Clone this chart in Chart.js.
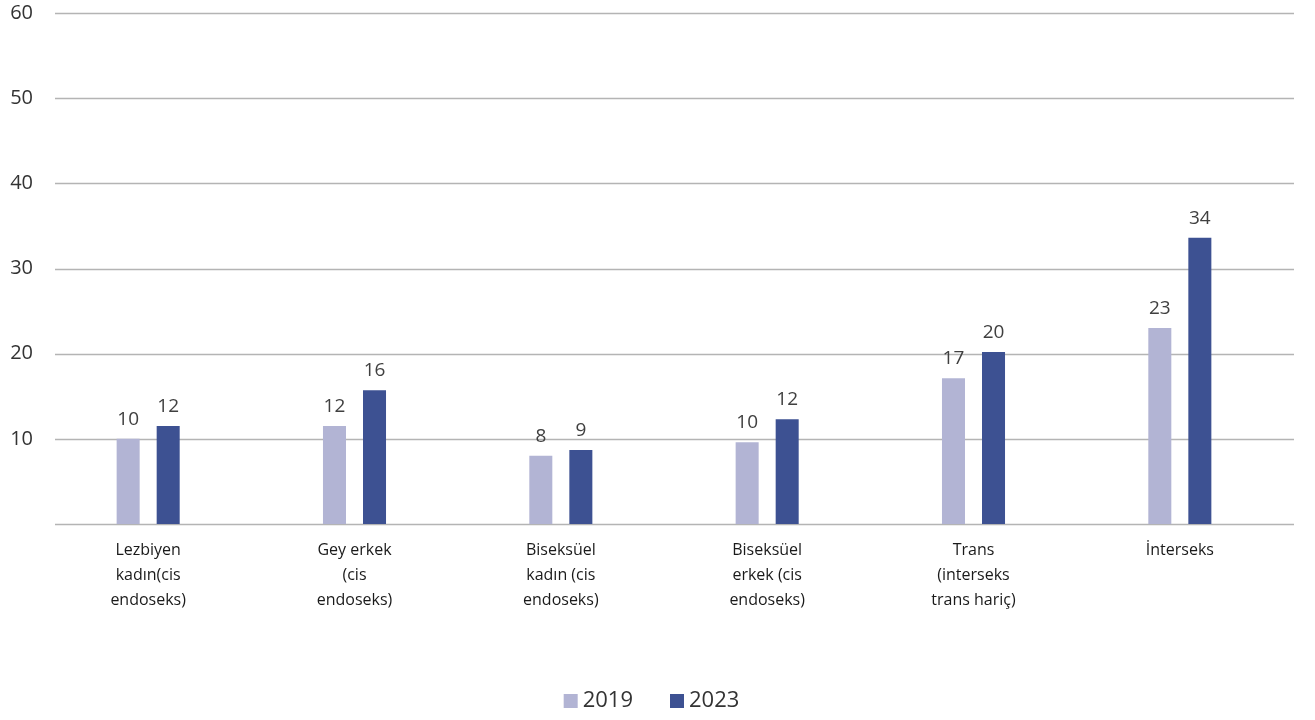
<!DOCTYPE html>
<html>
<head>
<meta charset="utf-8">
<script src="https://cdn.jsdelivr.net/npm/chart.js@4/dist/chart.umd.min.js"></script>
<style>
  html, body { margin: 0; padding: 0; background: #fff; }
  #wrap { width: 1315px; height: 720px; position: relative; }
</style>
</head>
<body>
<div id="wrap"><canvas id="grafico"></canvas></div>
<script>
// Kategoriler (çok satırlı etiketler)
const kategoriler = [
    ['Lezbiyen', 'kadın(cis', 'endoseks)'],
    ['Gey erkek', '(cis', 'endoseks)'],
    ['Biseksüel', 'kadın (cis', 'endoseks)'],
    ['Biseksüel', 'erkek (cis', 'endoseks)'],
    ['Trans', '(interseks', 'trans hariç)'],
    ['İnterseks']
];

// Seri değerleri (%)
const degerler2019 = [10.0, 11.5, 8.0, 9.6, 17.1, 23.0];
const degerler2023 = [11.5, 15.7, 8.7, 12.3, 20.2, 33.6];

// Y ekseni
const yMin = 0;
const yMax = 60;
const yAdim = 10;

const yaziTipi = "'Open Sans', 'Noto Sans', sans-serif";

// Izgara çizgileri: grafik alanından biraz sağa kaydırılmış halde çizilir
const izgaraEklentisi = {
    id: 'izgara',
    beforeDatasetsDraw(chart) {
        const ctx = chart.ctx;
        const y = chart.scales.y;
        ctx.save();
        ctx.strokeStyle = '#b4b4b4';
        ctx.lineWidth = 1.3;
        for (let v = yMin; v <= yMax; v += yAdim) {
            const py = Math.round(y.getPixelForValue(v)) + 0.5;
            ctx.beginPath();
            ctx.moveTo(55, py);
            ctx.lineTo(1294, py);
            ctx.stroke();
        }
        ctx.restore();
    }
};

// Çubukların üstüne değer yazar
const degerEtiketi = {
    id: 'degerEtiketi',
    afterDatasetsDraw(chart) {
        const ctx = chart.ctx;
        ctx.save();
        ctx.font = "19px " + yaziTipi;
        ctx.fillStyle = '#404040';
        ctx.textAlign = 'center';
        ctx.textBaseline = 'bottom';
        chart.data.datasets.forEach((ds, i) => {
            const meta = chart.getDatasetMeta(i);
            meta.data.forEach((bar, j) => {
                ctx.fillText(String(Math.round(ds.data[j])), bar.x, bar.y - 10);
            });
        });
        ctx.restore();
    }
};

// Alt kısımdaki lejant (kutu ile metin arası dar, öğeler arası geniş)
const lejant = {
    id: 'lejant',
    afterDraw(chart) {
        const ctx = chart.ctx;
        ctx.save();
        ctx.font = "22px " + yaziTipi;
        ctx.textBaseline = 'middle';
        const kutu = 14, bosluk = 5, araBosluk = 37, yMerkez = 701;
        const ogeler = chart.data.datasets.map(ds => ({
            metin: ds.label,
            renk: ds.backgroundColor,
            gen: kutu + bosluk + ctx.measureText(ds.label).width
        }));
        const toplam = ogeler.reduce((t, o) => t + o.gen, 0) + araBosluk * (ogeler.length - 1);
        let x = chart.width / 2 - 6 - toplam / 2;
        ogeler.forEach(o => {
            ctx.fillStyle = o.renk;
            ctx.fillRect(x, yMerkez - kutu / 2, kutu, kutu);
            ctx.fillStyle = '#333';
            ctx.fillText(o.metin, x + kutu + bosluk, yMerkez);
            x += o.gen + araBosluk;
        });
        ctx.restore();
    }
};

const ctx = document.getElementById('grafico').getContext('2d');
new Chart(ctx, {
    type: 'bar',
    data: {
        labels: kategoriler,
        datasets: [
            {
                label: '2019',
                data: degerler2019,
                backgroundColor: '#b2b4d4',
                categoryPercentage: 0.388,
                barPercentage: 0.575
            },
            {
                label: '2023',
                data: degerler2023,
                backgroundColor: '#3d5192',
                categoryPercentage: 0.388,
                barPercentage: 0.575
            }
        ]
    },
    options: {
        responsive: true,
        maintainAspectRatio: false,
        animation: false,
        layout: { padding: { top: 13, right: 32, bottom: 0, left: 0 } },
        scales: {
            x: {
                grid: { display: false, drawTicks: false },
                border: { display: false },
                ticks: {
                    color: '#1a1a1a',
                    font: { family: yaziTipi, size: 16, lineHeight: 1.56 },
                    padding: 14,
                    maxRotation: 0,
                    autoSkip: false
                },
                afterFit(scale) {
                    scale.height = 196;
                    scale.paddingLeft = 0;
                    scale.paddingRight = 0;
                }
            },
            y: {
                min: yMin,
                max: yMax,
                grid: { display: false, drawTicks: false },
                border: { display: false },
                ticks: {
                    stepSize: yAdim,
                    color: '#333',
                    font: { family: yaziTipi, size: 20 },
                    padding: 12,
                    callback: v => (v === 0 ? '' : v)
                },
                afterFit(scale) {
                    scale.width = 45;
                    scale.paddingTop = 0;
                    scale.paddingBottom = 0;
                }
            }
        },
        plugins: {
            legend: { display: false },
            tooltip: { enabled: false }
        }
    },
    plugins: [izgaraEklentisi, degerEtiketi, lejant]
});
</script>
</body>
</html>
